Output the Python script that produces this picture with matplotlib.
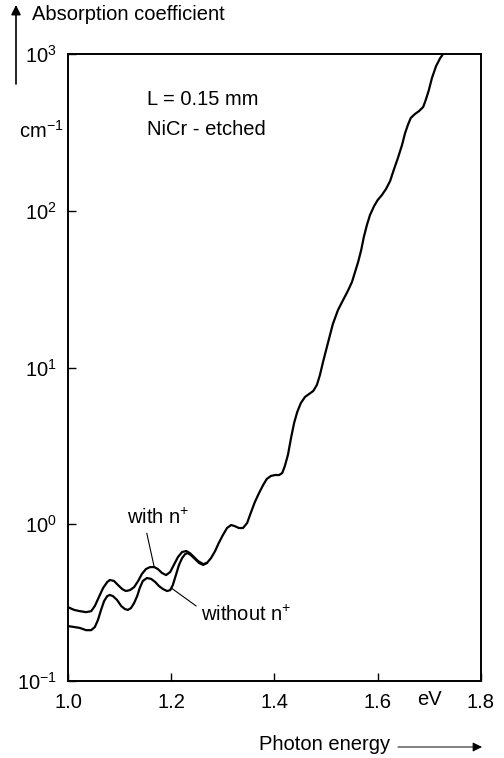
import matplotlib
matplotlib.use("Agg")
import matplotlib.pyplot as plt

# photon energy (eV) and absorption coefficient (cm^-1)
energy_without = [1.000, 1.012, 1.023, 1.035, 1.045, 1.052, 1.058, 1.064, 1.070, 1.076,
                  1.081, 1.087, 1.095, 1.103, 1.110, 1.116, 1.122, 1.128, 1.134, 1.139,
                  1.145, 1.153, 1.161, 1.169, 1.176, 1.184, 1.192, 1.198, 1.203, 1.209,
                  1.215, 1.221, 1.227, 1.232, 1.238, 1.246, 1.254, 1.262, 1.269, 1.277,
                  1.285, 1.292, 1.300, 1.308, 1.316, 1.323, 1.331, 1.339, 1.347, 1.354,
                  1.362, 1.370, 1.378, 1.385, 1.393, 1.401, 1.409, 1.415, 1.420, 1.426,
                  1.432, 1.438, 1.444, 1.451, 1.459, 1.467, 1.475, 1.482, 1.488, 1.494,
                  1.500, 1.506, 1.513, 1.523, 1.533, 1.542, 1.550, 1.556, 1.562, 1.568,
                  1.573, 1.579, 1.585, 1.593, 1.600, 1.608, 1.616, 1.624, 1.631, 1.639,
                  1.647, 1.653, 1.659, 1.664, 1.672, 1.680, 1.688, 1.693, 1.699, 1.705,
                  1.713, 1.721, 1.728]
alpha_without = [0.224, 0.221, 0.218, 0.211, 0.211, 0.221, 0.245, 0.284, 0.324, 0.348,
                 0.354, 0.348, 0.329, 0.301, 0.288, 0.284, 0.292, 0.314, 0.348, 0.392,
                 0.435, 0.454, 0.448, 0.428, 0.404, 0.386, 0.375, 0.380, 0.409, 0.474,
                 0.550, 0.608, 0.646, 0.655, 0.635, 0.600, 0.566, 0.550, 0.566, 0.608,
                 0.675, 0.759, 0.853, 0.946, 0.989, 0.973, 0.946, 0.946, 1.019, 1.180,
                 1.387, 1.581, 1.778, 1.945, 2.032, 2.061, 2.061, 2.123, 2.350, 2.767,
                 3.548, 4.426, 5.200, 5.929, 6.486, 6.776, 7.079, 7.727, 8.954, 10.84,
                 12.94, 15.42, 18.92, 23.28, 26.98, 30.76, 35.08, 40.64, 47.10, 56.23,
                 67.92, 81.10, 93.97, 107.2, 117.2, 125.9, 137.7, 154.9, 182.0, 216.8,
                 262.4, 313.3, 357.3, 390.8, 414.0, 432.5, 459.2, 509.3, 588.8, 703.1,
                 837.5, 942.0, 1015.0]

energy_with = [1.000, 1.012, 1.023, 1.035, 1.045, 1.052, 1.060, 1.068, 1.076, 1.081,
               1.089, 1.097, 1.105, 1.112, 1.120, 1.128, 1.136, 1.143, 1.151, 1.159,
               1.167, 1.174, 1.182, 1.190, 1.198, 1.205, 1.213, 1.221, 1.229, 1.236,
               1.244, 1.252, 1.262, 1.269]
alpha_with = [0.296, 0.284, 0.279, 0.275, 0.279, 0.301, 0.344, 0.392, 0.428, 0.441,
              0.435, 0.409, 0.386, 0.375, 0.380, 0.397, 0.435, 0.481, 0.518, 0.533,
              0.533, 0.518, 0.489, 0.474, 0.496, 0.550, 0.618, 0.665, 0.675, 0.655,
              0.618, 0.582, 0.557, 0.566]

x_ticks = [1.0, 1.2, 1.4, 1.6, 1.8]
x_labels = ["1.0", "1.2", "1.4", "1.6", "1.8"]
y_ticks = [0.1, 1, 10, 100, 1000]
y_labels = [r"$10^{-1}$", r"$10^{0}$", r"$10^{1}$", r"$10^{2}$", r"$10^{3}$"]

W, H = 504, 758
FS = 14.5

plt.rcParams["font.family"] = ["Liberation Sans", "DejaVu Sans"]
plt.rcParams["mathtext.default"] = "regular"

fig = plt.figure(figsize=(W / 100, H / 100), dpi=100)
ax = fig.add_axes([68 / W, 1 - 681 / H, (481 - 68) / W, (681 - 54) / H])

ax.plot(energy_without, alpha_without, color="black", lw=1.6)
ax.plot(energy_with, alpha_with, color="black", lw=1.6)

ax.set_yscale("log")
ax.set_xlim(1.0, 1.8)
ax.set_ylim(0.1, 1000)
ax.set_xticks(x_ticks, x_labels)
ax.set_yticks(y_ticks, y_labels)
ax.minorticks_off()
ax.tick_params(direction="in", length=6, width=1, labelsize=FS, color="black")
ax.tick_params(axis="x", pad=9)
ax.tick_params(axis="y", pad=8)
for sp in ax.spines.values():
    sp.set_linewidth(1.4)

ax.text(0.192, 0.927, "L = 0.15 mm", transform=ax.transAxes, fontsize=FS, ha="left", va="center")
ax.text(0.192, 0.880, "NiCr - etched", transform=ax.transAxes, fontsize=FS, ha="left", va="center")

ax.annotate("with n$^{+}$", xy=(1.167, 0.533), xytext=(1.114, 0.95), fontsize=FS,
            ha="left", va="bottom",
            arrowprops=dict(arrowstyle="-", lw=0.8, color="black", relpos=(0.3, 0),
                            shrinkA=2, shrinkB=0))
ax.annotate("without n$^{+}$", xy=(1.201, 0.39), xytext=(1.258, 0.265), fontsize=FS,
            ha="left", va="center",
            arrowprops=dict(arrowstyle="-", lw=0.8, color="black", relpos=(0, 0.75),
                            shrinkA=2, shrinkB=0))

ax.text(1.70, -9 / 627, "eV", transform=ax.get_xaxis_transform(), fontsize=FS,
        ha="center", va="top")

fig.text(32 / W, 1 - 15 / H, "Absorption coefficient", fontsize=FS, ha="left", va="center")
fig.text(41 / W, 1 - 131 / H, "cm$^{-1}$", fontsize=FS, ha="center", va="center")
fig.text(390 / W, 1 - 745 / H, "Photon energy", fontsize=FS, ha="right", va="center")

ax.annotate("", xy=(16 / W, 1 - 5 / H), xytext=(16 / W, 1 - 84 / H),
            xycoords="figure fraction", textcoords="figure fraction",
            arrowprops=dict(arrowstyle="-|>", lw=1.2, color="black", mutation_scale=14,
                            shrinkA=0, shrinkB=0))
ax.annotate("", xy=(482 / W, 1 - 747 / H), xytext=(398 / W, 1 - 747 / H),
            xycoords="figure fraction", textcoords="figure fraction",
            arrowprops=dict(arrowstyle="-|>", lw=0.7, color="black", mutation_scale=14,
                            shrinkA=0, shrinkB=0))

fig.savefig("out.png", dpi=100)
